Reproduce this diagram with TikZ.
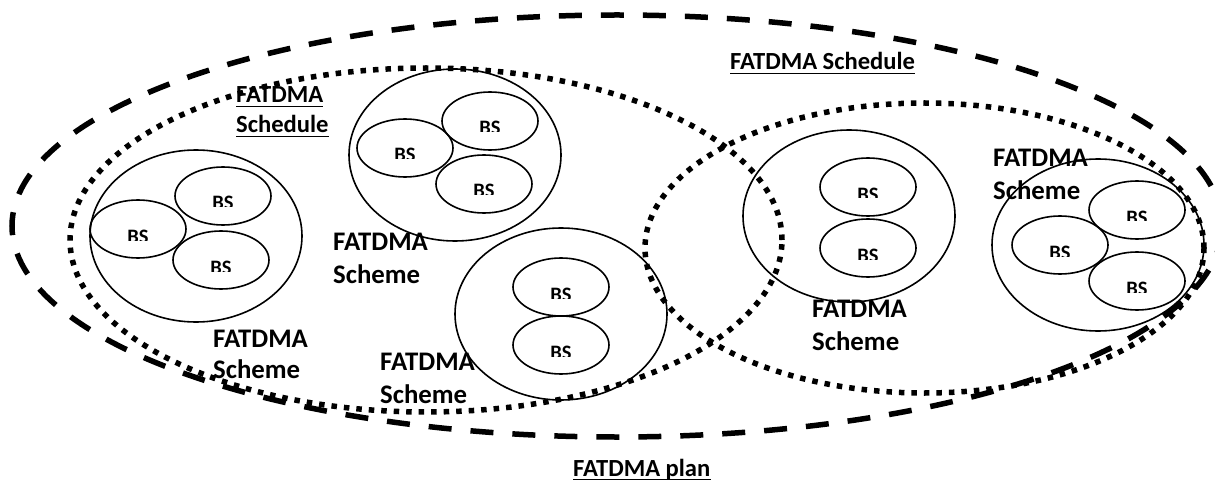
\documentclass[tikz,border=0pt]{standalone}
\usepackage{fontspec}
\setmainfont{Carlito}
\usetikzlibrary{shapes.geometric}
\tikzset{
  bigring/.style={ellipse, draw, line width=1.6pt, minimum width=212pt, minimum height=172pt, inner sep=0pt},
  oval/.style={ellipse, draw, line width=1.6pt, minimum width=96pt, minimum height=58pt, inner sep=0pt},
  bstext/.style={font=\fontsize{20.5}{24}\selectfont\bfseries, inner sep=0pt, anchor=base},
  lbl/.style={font=\fontsize{26.8}{32}\selectfont\bfseries, inner sep=0pt, anchor=base west},
  ulbl/.style={font=\fontsize{24.6}{30}\selectfont\bfseries, inner sep=0pt, anchor=base west},
  uline/.style={line width=1.8pt},
  bigdash/.style={ellipse, draw, inner sep=0pt, line width=5.5pt, dash pattern=on 23pt off 19pt},
  bigdot/.style={ellipse, draw, inner sep=0pt, line width=5.5pt, dash pattern=on 5.5pt off 7pt},
}
\newcommand\bsoval[3]{%
  \node[oval] (#1) at (#2,#3) {};
  \begin{scope}
    \clip (#2-30,#3-20) rectangle (#2+30,#3+11);
    \node[bstext] (#1t) at (#2,#3+14) {BS};
  \end{scope}}
\begin{document}
\begin{tikzpicture}[x=1pt,y=-1pt]
\useasboundingbox (0,0) rectangle (1215,481);
% outer plan and schedules
\node[bigdash, minimum width=1210pt, minimum height=422pt] (plan) at (617,226) {};
\node[bigdot, minimum width=712pt, minimum height=344pt] (schL) at (426,240) {};
\node[bigdot, minimum width=559pt, minimum height=290pt] (schR) at (924.5,248) {};
% schemes
\node[bigring] (c1) at (196,236) {};
\node[bigring] (c2) at (455,155) {};
\node[bigring] (c3) at (561,314) {};
\node[bigring] (c4) at (849,216) {};
\node[bigring] (c5) at (1098,245) {};
% base stations
\bsoval{b11}{223}{196}
\bsoval{b12}{138}{229}
\bsoval{b13}{221}{260}
\bsoval{b21}{490}{121}
\bsoval{b22}{405}{148}
\bsoval{b23}{484}{184}
\bsoval{b31}{561}{287}
\bsoval{b32}{561}{345}
\bsoval{b41}{868}{187}
\bsoval{b42}{868}{248}
\bsoval{b51}{1137}{210}
\bsoval{b52}{1060}{245}
\bsoval{b53}{1137}{281}
% scheme labels
\node[lbl] (m1a) at (333,250) {FATDMA};
\node[lbl] (m1b) at (333,283) {Scheme};
\node[lbl] (m2a) at (213,347) {FATDMA};
\node[lbl] (m2b) at (213,378) {Scheme};
\node[lbl] (m3a) at (380,370) {FATDMA};
\node[lbl] (m3b) at (380,403) {Scheme};
\node[lbl] (m4a) at (812,317) {FATDMA};
\node[lbl] (m4b) at (812,350) {Scheme};
\node[lbl] (m5a) at (993,167) {FATDMA};
\node[lbl] (m5b) at (993,200) {Scheme};
% schedule and plan labels
\node[ulbl] (sLa) at (236,103) {FATDMA};
\node[ulbl] (sLb) at (236,133) {Schedule};
\node[ulbl] (sR) at (730,70) {FATDMA Schedule};
\node[ulbl] (pl) at (573,476) {FATDMA plan};
\foreach \t in {sLa,sLb,sR,pl}
  \draw[uline] ([yshift=-3.5pt]\t.base west) -- ([yshift=-3.5pt]\t.base east);
\end{tikzpicture}
\end{document}
